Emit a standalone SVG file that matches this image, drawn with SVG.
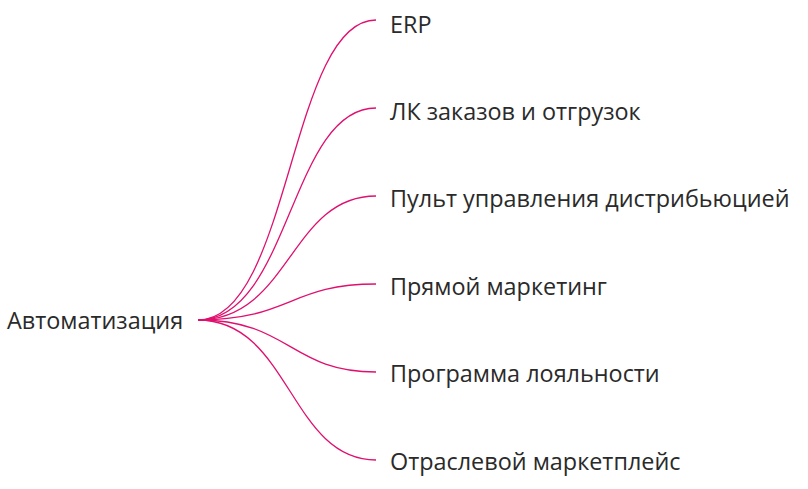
<svg xmlns="http://www.w3.org/2000/svg" width="808" height="489" viewBox="0 0 808 489">
<style>
text{font-family:"Open Sans","Noto Sans",sans-serif;font-size:23.4px;fill:#2a2a2a}
.c{fill:none;stroke:#e0106e;stroke-width:1.3}
</style>
<rect width="808" height="489" fill="#fff"/>
<g id="connectors">
<path class="c" d="M198,320 C290,320 290,20 376,20"/>
<path class="c" d="M198,320 C290,320 290,108 376,108"/>
<path class="c" d="M198,320 C290,320 290,196 376,196"/>
<path class="c" d="M198,320 C290,320 290,284 376,284"/>
<path class="c" d="M198,320 C290,320 290,372 376,372"/>
<path class="c" d="M198,320 C290,320 290,460 376,460"/>
</g>
<g id="root"><text x="7" y="329">Автоматизация</text></g>
<g id="n1"><text x="390" y="33">ERP</text></g>
<g id="n2"><text x="390" y="120">ЛК заказов и отгрузок</text></g>
<g id="n3"><text x="390" y="207">Пульт управления дистрибьюцией</text></g>
<g id="n4"><text x="390" y="295">Прямой маркетинг</text></g>
<g id="n5"><text x="390" y="382">Программа лояльности</text></g>
<g id="n6"><text x="390" y="470">Отраслевой маркетплейс</text></g>
</svg>
